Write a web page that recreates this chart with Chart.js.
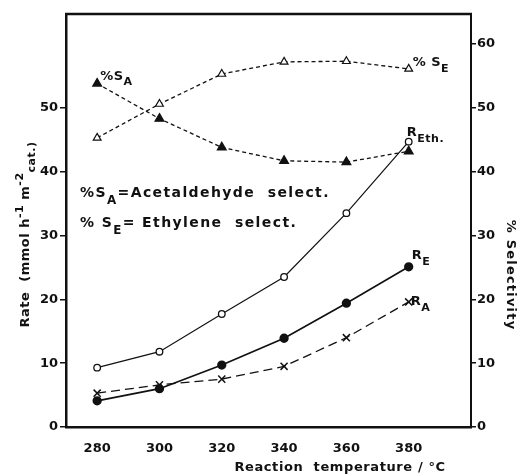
<!DOCTYPE html>
<html>
<head>
<meta charset="utf-8">
<script src="https://cdn.jsdelivr.net/npm/chart.js@4"></script>
<style>
  body { margin: 0; background: #fff; }
  canvas { display: block; }
</style>
</head>
<body>
<canvas id="chart" width="519" height="476"></canvas>
<script>
// Data
const temps = [280, 300, 320, 340, 360, 380];
const rateEth = [9.3, 11.8, 17.7, 23.5, 33.5, 44.7];      // R_Eth. (open circles)
const rateE = [4.1, 6.0, 9.7, 13.9, 19.4, 25.1];          // R_E (filled circles)
const rateA = [5.3, 6.6, 7.5, 9.5, 14.0, 19.6];           // R_A (crosses)
const selA = [53.8, 48.3, 43.8, 41.7, 41.5, 43.2];        // %S_A (filled triangles)
const selE = [45.3, 50.6, 55.3, 57.2, 57.3, 56.1];        // %S_E (open triangles)
const xTicks = [280, 300, 320, 340, 360, 380];
const rateTicks = [0, 10, 20, 30, 40, 50];
const selTicks = [0, 10, 20, 30, 40, 50, 60];

const FONT = '"DejaVu Sans", sans-serif';
const ink = '#111';

function pts(ys) {
  return temps.map((t, i) => ({ x: t, y: ys[i] }));
}

// draw text with sub/superscripts: parts = [[text, mode]] mode 0 normal, 1 sub, 2 sup
function drawRich(ctx, parts, x, y, size) {
  let cx = x;
  parts.forEach(([txt, mode]) => {
    const s = mode ? size * 0.85 : size;
    ctx.font = 'bold ' + s + 'px ' + FONT;
    let dy = 0;
    if (mode === 1) dy = size * 0.45;
    if (mode === 2) dy = -size * 0.5;
    ctx.fillText(txt, cx, y + dy);
    cx += ctx.measureText(txt).width;
  });
  return cx - x;
}
function richWidth(ctx, parts, size) {
  let w = 0;
  parts.forEach(([txt, mode]) => {
    const s = mode ? size * 0.85 : size;
    ctx.font = 'bold ' + s + 'px ' + FONT;
    w += ctx.measureText(txt).width;
  });
  return w;
}

const labelsPlugin = {
  id: 'labels',
  afterDraw(chart) {
    const ctx = chart.ctx;
    const xs = chart.scales.x, ys = chart.scales.y, ys2 = chart.scales.y2;
    const a = chart.chartArea;
    ctx.save();
    // top frame line
    ctx.strokeStyle = ink;
    ctx.lineWidth = 2.5;
    ctx.beginPath();
    ctx.moveTo(a.left - 1, a.top);
    ctx.lineTo(a.right + 1, a.top);
    ctx.stroke();

    ctx.fillStyle = ink;
    ctx.textBaseline = 'alphabetic';
    ctx.letterSpacing = '0.5px';
    const fs = 13;
    // series labels, anchored at end/start points
    drawRich(ctx, [['%', 0], ['S', 0], ['A', 1]], xs.getPixelForValue(280) + 3, ys2.getPixelForValue(selA[0]) - 4, fs);
    drawRich(ctx, [['%', 0], [' S', 0], ['E', 1]], xs.getPixelForValue(380) + 4, ys2.getPixelForValue(selE[5]) - 3, fs);
    drawRich(ctx, [['R', 0], ['Eth.', 1]], xs.getPixelForValue(380) - 2, ys.getPixelForValue(rateEth[5]) - 6, fs);
    drawRich(ctx, [['R', 0], ['E', 1]], xs.getPixelForValue(380) + 3, ys.getPixelForValue(rateE[5]) - 8, fs);
    drawRich(ctx, [['R', 0], ['A', 1]], xs.getPixelForValue(380) + 2, ys.getPixelForValue(rateA[5]) + 3, fs);

    // key text
    ctx.letterSpacing = '1.4px';
    drawRich(ctx, [['%', 0], ['S', 0], ['A', 1], ['=Acetaldehyde  select.', 0]], a.left + 14, ys.getPixelForValue(36.0), 14);
    drawRich(ctx, [['%', 0], [' S', 0], ['E', 1], ['= Ethylene  select.', 0]], a.left + 14, ys.getPixelForValue(31.3), 14);

    // left axis title (rotated)
    const yt = [['Rate  (mmol h', 0], ['-1', 2], [' m', 0], ['-2', 2], ['cat.)', 1]];
    ctx.letterSpacing = '0.5px';
    const w = richWidth(ctx, yt, fs);
    ctx.translate(29, (a.top + a.bottom) / 2 + 14);
    ctx.rotate(-Math.PI / 2);
    drawRich(ctx, yt, -w / 2, 0, fs);
    ctx.restore();

    // right axis title
    ctx.save();
    ctx.fillStyle = ink;
    ctx.letterSpacing = '1.2px';
    ctx.font = 'bold 13px ' + FONT;
    ctx.textAlign = 'center';
    ctx.translate(507, 275);
    ctx.rotate(Math.PI / 2);
    ctx.fillText('% Selectivity', 0, 0);
    ctx.restore();

    // x axis title
    ctx.save();
    ctx.fillStyle = ink;
    ctx.letterSpacing = '0.6px';
    ctx.font = 'bold 13px ' + FONT;
    ctx.textAlign = 'center';
    ctx.fillText('Reaction  temperature / \u00B0C', 340, 471);
    ctx.restore();
  }
};

new Chart(document.getElementById('chart'), {
  type: 'line',
  data: {
    datasets: [
      {
        label: 'R_Eth', data: pts(rateEth), yAxisID: 'y',
        borderColor: ink, borderWidth: 1.2, pointStyle: 'circle', pointRadius: 3.3,
        pointBackgroundColor: '#fff', pointBorderColor: ink, pointBorderWidth: 1.3
      },
      {
        label: 'R_E', data: pts(rateE), yAxisID: 'y',
        borderColor: ink, borderWidth: 1.7, pointStyle: 'circle', pointRadius: 3.8,
        pointBackgroundColor: ink, pointBorderColor: ink
      },
      {
        label: 'R_A', data: pts(rateA), yAxisID: 'y',
        borderColor: ink, borderWidth: 1.3, borderDash: [9, 5], pointStyle: 'crossRot', pointRadius: 5,
        pointBorderColor: ink, pointBorderWidth: 1.5
      },
      {
        label: 'S_A', data: pts(selA), yAxisID: 'y2',
        borderColor: ink, borderWidth: 1.3, borderDash: [4, 3], pointStyle: 'triangle', pointRadius: 5,
        pointBackgroundColor: ink, pointBorderColor: ink
      },
      {
        label: 'S_E', data: pts(selE), yAxisID: 'y2',
        borderColor: ink, borderWidth: 1.3, borderDash: [4, 3], pointStyle: 'triangle', pointRadius: 4.5,
        pointBackgroundColor: '#fff', pointBorderColor: ink, pointBorderWidth: 1.2
      }
    ]
  },
  options: {
    responsive: false,
    animation: false,
    layout: { padding: { top: 14, left: 0, right: 0, bottom: 0 } },
    plugins: { legend: { display: false }, tooltip: { enabled: false } },
    scales: {
      x: {
        type: 'linear', min: 270, max: 400,
        afterBuildTicks: s => { s.ticks = xTicks.map(v => ({ value: v })); },
        afterFit: s => { s.height = 476 - 427; },
        grid: { display: false },
        border: { color: ink, width: 2.5 },
        ticks: { color: ink, font: { family: FONT, size: 13, weight: 'bold' }, padding: 6 }
      },
      y: {
        position: 'left', min: 0, max: 64.7,
        afterBuildTicks: s => { s.ticks = rateTicks.map(v => ({ value: v })); },
        afterFit: s => { s.width = 66; },
        grid: { display: true, drawOnChartArea: false, drawTicks: true, tickLength: 6, color: ink, lineWidth: 1.5 },
        border: { color: ink, width: 2.5 },
        ticks: { color: ink, font: { family: FONT, size: 13, weight: 'bold' }, padding: 2 }
      },
      y2: {
        position: 'right', min: 0, max: 64.7,
        afterBuildTicks: s => { s.ticks = selTicks.map(v => ({ value: v })); },
        afterFit: s => { s.width = 519 - 471; },
        grid: { display: true, drawOnChartArea: false, drawTicks: true, tickLength: 5, color: ink, lineWidth: 1.5 },
        border: { color: ink, width: 2 },
        ticks: { color: ink, font: { family: FONT, size: 13, weight: 'bold' }, padding: 1 }
      }
    }
  },
  plugins: [labelsPlugin]
});
</script>
</body>
</html>
